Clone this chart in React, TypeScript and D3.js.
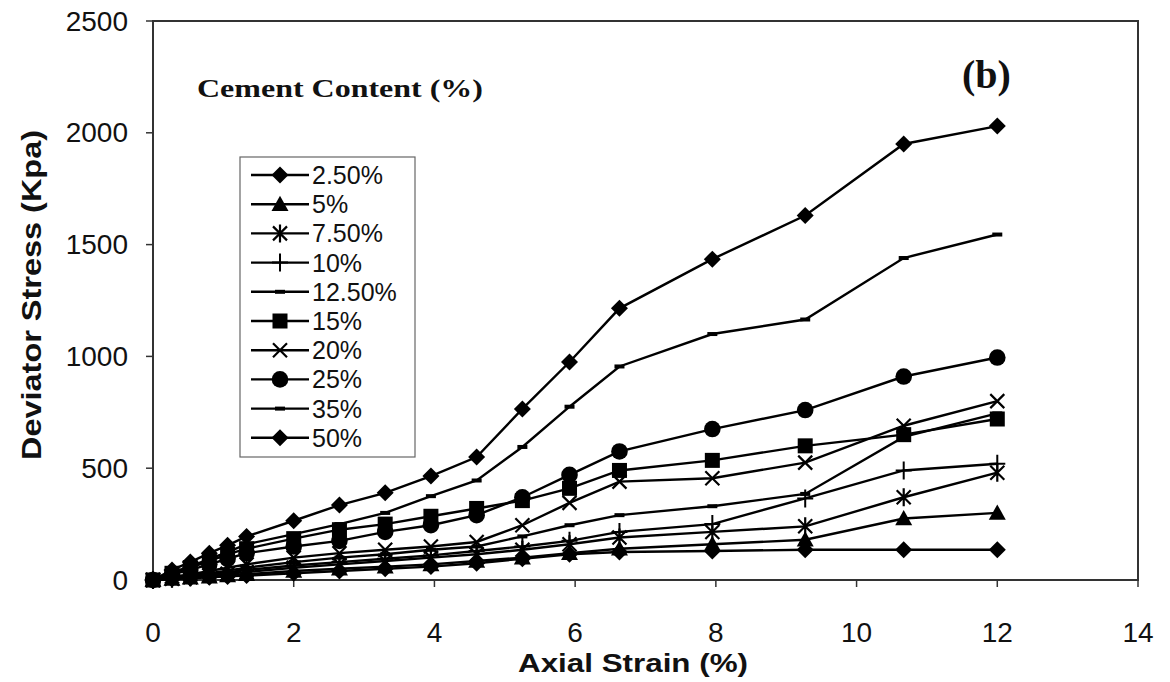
import React from "react";
import * as d3 from "d3";

const strain = [0, 0.27, 0.53, 0.8, 1.06, 1.33, 2, 2.65, 3.3, 3.95, 4.6, 5.25, 5.92, 6.63, 7.95, 9.27, 10.67, 12];

const seriesNames = ["2.50%", "5%", "7.50%", "10%", "12.50%", "15%", "20%", "25%", "35%", "50%"];
const seriesMarkers = ["diamond", "triangle", "star", "plus", "dash", "square", "x", "circle", "dash", "diamond"];

const c2_5 = [0, 4, 8, 12, 16, 20, 30, 40, 50, 60, 75, 95, 115, 125, 130, 135, 135, 135];
const c5 = [0, 5, 10, 15, 20, 26, 40, 50, 60, 70, 85, 100, 120, 140, 160, 180, 275, 300];
const c7_5 = [0, 6, 12, 20, 28, 36, 55, 70, 85, 100, 115, 135, 160, 190, 215, 240, 370, 480];
const c10 = [0, 8, 15, 25, 35, 45, 65, 80, 95, 110, 130, 150, 175, 215, 250, 365, 490, 520];
const c12_5 = [0, 10, 20, 30, 42, 55, 80, 100, 115, 135, 150, 195, 245, 290, 330, 385, 640, 745];
const c15 = [0, 30, 55, 85, 115, 140, 185, 225, 250, 285, 320, 355, 410, 490, 535, 600, 650, 720];
const c20 = [0, 15, 25, 40, 55, 70, 100, 120, 135, 150, 170, 245, 345, 440, 455, 525, 690, 800];
const c25 = [0, 25, 45, 70, 95, 120, 150, 175, 215, 245, 290, 370, 470, 575, 675, 760, 910, 995];
const c35 = [0, 35, 60, 95, 125, 160, 205, 250, 300, 375, 445, 595, 775, 955, 1100, 1165, 1440, 1545];
const c50 = [0, 45, 80, 120, 155, 195, 265, 335, 390, 465, 550, 765, 975, 1215, 1435, 1630, 1950, 2030];

const seriesValues = [c2_5, c5, c7_5, c10, c12_5, c15, c20, c25, c35, c50];

const xTicks = [0, 2, 4, 6, 8, 10, 12, 14];
const yTicks = [0, 500, 1000, 1500, 2000, 2500];

const W = 1170;
const H = 682;

function Marker({ type, x, y }: { type: string; x: number; y: number }) {
  const s = 8.5;
  switch (type) {
    case "diamond":
      return <path d={`M${x},${y - s}L${x + s},${y}L${x},${y + s}L${x - s},${y}Z`} fill="#000" />;
    case "triangle":
      return <path d={`M${x},${y - s}L${x + s},${y + s * 0.8}L${x - s},${y + s * 0.8}Z`} fill="#000" />;
    case "square":
      return <rect x={x - 7.5} y={y - 7.5} width={15} height={15} fill="#000" />;
    case "circle":
      return <circle cx={x} cy={y} r={8.3} fill="#000" />;
    case "x":
      return (
        <path d={`M${x - 7},${y - 7}L${x + 7},${y + 7}M${x - 7},${y + 7}L${x + 7},${y - 7}`} stroke="#000" strokeWidth={2.2} />
      );
    case "star":
      return (
        <path
          d={`M${x - 7},${y - 7}L${x + 7},${y + 7}M${x - 7},${y + 7}L${x + 7},${y - 7}M${x},${y - 9}L${x},${y + 9}`}
          stroke="#000"
          strokeWidth={2.2}
        />
      );
    case "plus":
      return <path d={`M${x - 8},${y}L${x + 8},${y}M${x},${y - 9}L${x},${y + 9}`} stroke="#000" strokeWidth={2} />;
    case "dash":
      return <rect x={x - 5} y={y - 2} width={10} height={4} fill="#000" />;
    default:
      return null;
  }
}

export default function App() {
  const x = d3.scaleLinear().domain([0, 14]).range([153, 1138]);
  const y = d3.scaleLinear().domain([0, 2500]).range([580, 21]);
  const line = d3
    .line<number>()
    .x((_, i) => x(strain[i]))
    .y((d) => y(d));

  const legX = 240;
  const legY = 157;
  const legW = 175;
  const legH = 300;
  const rowGap = 29.2;

  return (
    <svg width={W} height={H} style={{ display: "block", position: "absolute", left: 0, top: 0, background: "#fff" }}>
      <rect x={0} y={0} width={W} height={H} fill="#fff" />
      {/* plot frame */}
      <rect x={x(0)} y={y(2500)} width={x(14) - x(0)} height={y(0) - y(2500)} fill="none" stroke="#333" strokeWidth={2} />
      {/* y ticks */}
      {yTicks.map((t) => (
        <g key={"y" + t}>
          <line x1={x(0) - 7} x2={x(0)} y1={y(t)} y2={y(t)} stroke="#333" strokeWidth={1.5} />
          <text
            x={128}
            y={y(t)}
            textAnchor="end"
            dominantBaseline="central"
            fontFamily="Arial, 'Liberation Sans', sans-serif"
            fontSize={28}
            fill="#111"
          >
            {t}
          </text>
        </g>
      ))}
      {/* x ticks */}
      {xTicks.map((t) => (
        <g key={"x" + t}>
          <line x1={x(t)} x2={x(t)} y1={y(0)} y2={y(0) + 7} stroke="#333" strokeWidth={1.5} />
          <text
            x={x(t)}
            y={642}
            textAnchor="middle"
            fontFamily="Arial, 'Liberation Sans', sans-serif"
            fontSize={28}
            fill="#111"
          >
            {t}
          </text>
        </g>
      ))}
      {/* axis titles */}
      <text
        x={633}
        y={672}
        textAnchor="middle"
        fontFamily="Arial, 'Liberation Sans', sans-serif"
        fontWeight="bold"
        fontSize={26}
        fill="#111"
        textLength={230}
        lengthAdjust="spacingAndGlyphs"
      >
        Axial Strain (%)
      </text>
      <text
        transform={`translate(41,295) rotate(-90)`}
        textAnchor="middle"
        fontFamily="Arial, 'Liberation Sans', sans-serif"
        fontWeight="bold"
        fontSize={28}
        fill="#111"
        textLength={330}
        lengthAdjust="spacingAndGlyphs"
      >
        Deviator Stress (Kpa)
      </text>
      {/* series */}
      {seriesValues.map((vals, si) => (
        <g key={"s" + si}>
          <path d={line(vals) || ""} fill="none" stroke="#000" strokeWidth={2.4} />
          {vals.map((v, i) => (
            <Marker key={i} type={seriesMarkers[si]} x={x(strain[i])} y={y(v)} />
          ))}
        </g>
      ))}
      {/* annotations */}
      <text
        x={197}
        y={97}
        fontFamily="'Times New Roman', 'Liberation Serif', serif"
        fontWeight="bold"
        fontSize={25}
        fill="#111"
        textLength={286}
        lengthAdjust="spacingAndGlyphs"
      >
        Cement Content (%)
      </text>
      <text
        x={962}
        y={88}
        fontFamily="'Times New Roman', 'Liberation Serif', serif"
        fontWeight="bold"
        fontSize={40}
        fill="#111"
      >
        (b)
      </text>
      {/* legend */}
      <rect x={legX} y={legY} width={legW} height={legH} fill="#fff" stroke="#666" strokeWidth={1.2} />
      {seriesNames.map((name, i) => {
        const cy = 175 + i * rowGap;
        return (
          <g key={"l" + i}>
            <line x1={251} x2={309} y1={cy} y2={cy} stroke="#000" strokeWidth={2.4} />
            <Marker type={seriesMarkers[i]} x={280} y={cy} />
            <text
              x={312}
              y={cy}
              dominantBaseline="central"
              fontFamily="Arial, 'Liberation Sans', sans-serif"
              fontSize={25}
              fill="#111"
            >
              {name}
            </text>
          </g>
        );
      })}
    </svg>
  );
}
